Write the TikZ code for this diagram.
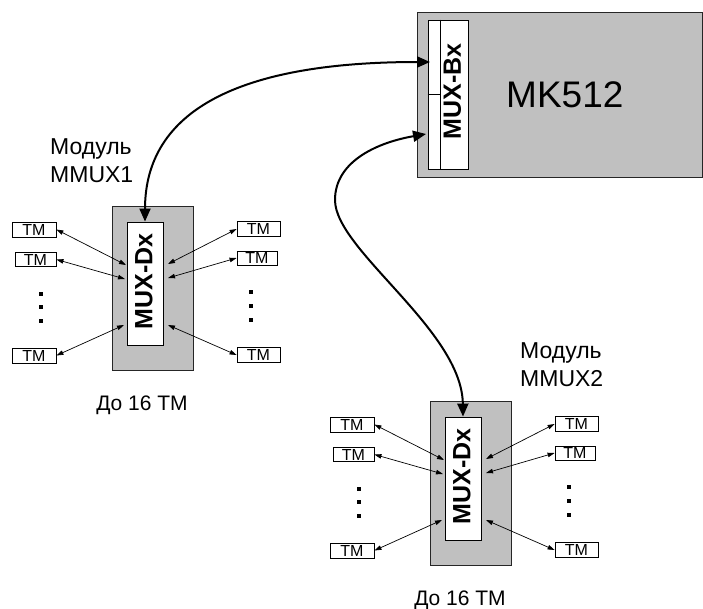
\documentclass[tikz,border=0pt]{standalone}
\usepackage{fontspec}
\setmainfont{Liberation Sans}
\usetikzlibrary{arrows.meta,calc}
\definecolor{panelgray}{HTML}{C0C0C0}
\tikzset{
  panel/.style={draw=black!85, fill=panelgray, line width=0.9pt, inner sep=0pt},
  chip/.style={draw=black, fill=white, line width=0.9pt, inner sep=0pt},
  tmbox/.style={draw=black, fill=white, line width=0.8pt, inner sep=0pt,
    font=\fontsize{16}{16}\selectfont},
  chiplabel/.style={rotate=90, inner sep=0pt, font=\bfseries\fontsize{25}{25}\selectfont},
  link/.style={line width=0.7pt,
    arrows={Triangle[length=7pt,width=4.5pt]-Triangle[length=7pt,width=4.5pt]}},
  trunk/.style={line width=2pt,
    arrows={Triangle[length=13pt,width=11pt]-Triangle[length=13pt,width=11pt]}},
  caption/.style={inner sep=0pt, font=\fontsize{21}{21}\selectfont},
  modlabel/.style={inner sep=0pt, align=left, font=\fontsize{23}{28}\selectfont},
}
% One MMUX module: #1 = name prefix, (#2,#3) = offset
\newcommand\mmuxunit[3]{%
  \begin{scope}[shift={(#2,#3)}]
    \node[panel, minimum width=81pt, minimum height=164pt] (#1panel) at (152.5,288) {};
    \node[chip, minimum width=36pt, minimum height=123pt] (#1chip) at (145,283.5) {};
    \node[chiplabel] (#1name) at (144,281.5) {MUX-Dx};
    % terminal modules on the left
    \node[tmbox, minimum width=44pt, minimum height=15pt] (#1l1) at (34,229.5) {ТМ};
    \node[tmbox, minimum width=41pt, minimum height=14pt] (#1l2) at (35.5,259.5) {ТМ};
    \node[tmbox, minimum width=44pt, minimum height=15pt] (#1l3) at (34,355.5) {ТМ};
    % terminal modules on the right
    \node[tmbox, minimum width=43pt, minimum height=15pt] (#1r1) at (258.5,229) {ТМ};
    \node[tmbox, minimum width=40pt, minimum height=14pt] (#1r2) at (257,258) {ТМ};
    \node[tmbox, minimum width=43pt, minimum height=15pt] (#1r3) at (258.5,355) {ТМ};
    % link ends inside the module
    \coordinate (#1a1) at (126,265);
    \coordinate (#1a2) at (125,279);
    \coordinate (#1a3) at (124,325);
    \coordinate (#1b1) at (168,264);
    \coordinate (#1b2) at (168,278);
    \coordinate (#1b3) at (168,325);
    \draw[link] (#1l1.east) -- (#1a1);
    \draw[link] (#1l2.east) -- (#1a2);
    \draw[link] (#1l3.east) -- (#1a3);
    \draw[link] (#1r1.west) -- (#1b1);
    \draw[link] (#1r2.west) -- (#1b2);
    \draw[link] (#1r3.west) -- (#1b3);
    % vertical ellipsis dots
    \fill (38.5,292) rectangle ++(4,4);
    \fill (38.5,305) rectangle ++(4,4);
    \fill (38.5,318.5) rectangle ++(4,4);
    \fill (248.5,290) rectangle ++(4,4);
    \fill (248.5,303.5) rectangle ++(4,4);
    \fill (248.5,317.5) rectangle ++(4,4);
    \node[caption, anchor=base] (#1note) at (142,410) {До 16 ТМ};
  \end{scope}}

\begin{document}
\begin{tikzpicture}[x=1pt, y=-1pt]
  \useasboundingbox (0,0) rectangle (703,608);

  % controller MK512 with its MUX-Bx board
  \node[panel, minimum width=285pt, minimum height=165pt] (mk) at (559.5,94.5) {};
  \node[chip, minimum width=40pt, minimum height=149pt] (bx) at (448,94.5) {};
  \draw[line width=0.9pt] ($(bx.north west)+(13,0)$) -- ($(bx.south west)+(13,0)$);
  \draw[line width=0.9pt] (bx.west) -- ++(13,0);
  \node[chiplabel] (bxname) at (452.5,91.5) {MUX-Bx};
  \node[inner sep=0pt, anchor=base west, font=\fontsize{37}{37}\selectfont] (mkname) at (506,107) {MK512};

  % the two multiplexer modules
  \mmuxunit{m1}{0}{0}
  \mmuxunit{m2}{318}{195}

  \node[modlabel, anchor=south west] (lab1) at (50,183) {Модуль\\MMUX1};
  \node[modlabel, anchor=south west] (lab2) at (520,387) {Модуль\\MMUX2};

  % trunk lines between MK512 and the modules
  \coordinate (bxin1) at (430,62);
  \coordinate (bxin2) at (426,134);
  \coordinate (swing) at (335,200);
  \draw[trunk] (m1chip.north) .. controls (145,110) and (240,62) .. (bxin1);
  \draw[trunk] (bxin2) .. controls (380,142) and (335,160) .. (swing)
               .. controls (335,250) and (462,330) .. (m2chip.north);
\end{tikzpicture}
\end{document}
